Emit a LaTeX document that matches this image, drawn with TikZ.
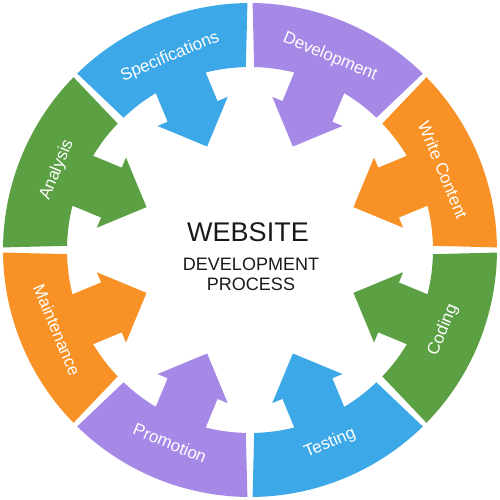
\documentclass[tikz,border=0pt]{standalone}
\usepackage{fontspec}
\setmainfont{Liberation Sans}
\usepackage{tikz}
\usepackage{xcolor}

\definecolor{ringblue}{HTML}{3DA8E8}
\definecolor{ringpurple}{HTML}{A688E6}
\definecolor{ringorange}{HTML}{F89226}
\definecolor{ringgreen}{HTML}{5BA043}

\begin{document}
\begin{tikzpicture}[x=0.75pt,y=0.75pt,
    ringlabel/.style={inner sep=0.75pt,text=white,font=\fontsize{12.75}{15}\selectfont},
    centertext/.style={anchor=base,inner sep=0.75pt,text=black!90}]
            \useasboundingbox (-250,-250) rectangle (250,250); %500 x 500, centre of the ring at (0,0)
            
            
            %Shape: Ring Arrow [Write Content] 
            \begin{scope}[rotate=22.5]
            \fill [ringorange] (-21.2:183) -- (-21.9:247) arc[start angle=-21.9,end angle=21.9,radius=247] -- (21.2:183) arc[start angle=21.2,end angle=8.5,radius=183] -- (150,27) -- (150,38) -- (112,0) -- (150,-38) -- (150,-27) -- (-8.5:183) arc[start angle=-8.5,end angle=-21.2,radius=183] -- cycle ;
            \end{scope}
            %Shape: Ring Arrow [Development] 
            \begin{scope}[rotate=67.5]
            \fill [ringpurple] (-21.2:183) -- (-21.9:247) arc[start angle=-21.9,end angle=21.9,radius=247] -- (21.2:183) arc[start angle=21.2,end angle=8.5,radius=183] -- (150,27) -- (150,38) -- (112,0) -- (150,-38) -- (150,-27) -- (-8.5:183) arc[start angle=-8.5,end angle=-21.2,radius=183] -- cycle ;
            \end{scope}
            %Shape: Ring Arrow [Specifications] 
            \begin{scope}[rotate=112.5]
            \fill [ringblue] (-21.2:183) -- (-21.9:247) arc[start angle=-21.9,end angle=21.9,radius=247] -- (21.2:183) arc[start angle=21.2,end angle=8.5,radius=183] -- (150,27) -- (150,38) -- (112,0) -- (150,-38) -- (150,-27) -- (-8.5:183) arc[start angle=-8.5,end angle=-21.2,radius=183] -- cycle ;
            \end{scope}
            %Shape: Ring Arrow [Analysis] 
            \begin{scope}[rotate=157.5]
            \fill [ringgreen] (-21.2:183) -- (-21.9:247) arc[start angle=-21.9,end angle=21.9,radius=247] -- (21.2:183) arc[start angle=21.2,end angle=8.5,radius=183] -- (150,27) -- (150,38) -- (112,0) -- (150,-38) -- (150,-27) -- (-8.5:183) arc[start angle=-8.5,end angle=-21.2,radius=183] -- cycle ;
            \end{scope}
            %Shape: Ring Arrow [Maintenance] 
            \begin{scope}[rotate=202.5]
            \fill [ringorange] (-21.2:183) -- (-21.9:247) arc[start angle=-21.9,end angle=21.9,radius=247] -- (21.2:183) arc[start angle=21.2,end angle=8.5,radius=183] -- (150,27) -- (150,38) -- (112,0) -- (150,-38) -- (150,-27) -- (-8.5:183) arc[start angle=-8.5,end angle=-21.2,radius=183] -- cycle ;
            \end{scope}
            %Shape: Ring Arrow [Promotion] 
            \begin{scope}[rotate=247.5]
            \fill [ringpurple] (-21.2:183) -- (-21.9:247) arc[start angle=-21.9,end angle=21.9,radius=247] -- (21.2:183) arc[start angle=21.2,end angle=8.5,radius=183] -- (150,27) -- (150,38) -- (112,0) -- (150,-38) -- (150,-27) -- (-8.5:183) arc[start angle=-8.5,end angle=-21.2,radius=183] -- cycle ;
            \end{scope}
            %Shape: Ring Arrow [Testing] 
            \begin{scope}[rotate=292.5]
            \fill [ringblue] (-21.2:183) -- (-21.9:247) arc[start angle=-21.9,end angle=21.9,radius=247] -- (21.2:183) arc[start angle=21.2,end angle=8.5,radius=183] -- (150,27) -- (150,38) -- (112,0) -- (150,-38) -- (150,-27) -- (-8.5:183) arc[start angle=-8.5,end angle=-21.2,radius=183] -- cycle ;
            \end{scope}
            %Shape: Ring Arrow [Coding] 
            \begin{scope}[rotate=337.5]
            \fill [ringgreen] (-21.2:183) -- (-21.9:247) arc[start angle=-21.9,end angle=21.9,radius=247] -- (21.2:183) arc[start angle=21.2,end angle=8.5,radius=183] -- (150,27) -- (150,38) -- (112,0) -- (150,-38) -- (150,-27) -- (-8.5:183) arc[start angle=-8.5,end angle=-21.2,radius=183] -- cycle ;
            \end{scope}
            
            % Text Node
            \draw (22.5:209) node (write) [ringlabel,rotate=-67.5] {Write Content};
            % Text Node
            \draw (67.5:209) node (devel) [ringlabel,rotate=-22.5] {Development};
            % Text Node
            \draw (112.5:209) node (spec) [ringlabel,rotate=22.5] {Specifications};
            % Text Node
            \draw (157.5:209) node (analysis) [ringlabel,rotate=67.5] {Analysis};
            % Text Node
            \draw (202.5:209) node (maint) [ringlabel,rotate=-67.5] {Maintenance};
            % Text Node
            \draw (247.5:209) node (promo) [ringlabel,rotate=-22.5] {Promotion};
            % Text Node
            \draw (292.5:209) node (test) [ringlabel,rotate=22.5] {Testing};
            % Text Node
            \draw (337.5:209) node (coding) [ringlabel,rotate=67.5] {Coding};
            
            % Text Node
            \draw (-2,8) node (website) [centertext] [font=\fontsize{20.25}{24}\selectfont] {WEBSITE};
            % Text Node
            \draw (1,-20) node (development) [centertext] [font=\fontsize{13.5}{16}\selectfont] {DEVELOPMENT};
            % Text Node
            \draw (1,-40) node (process) [centertext] [font=\fontsize{13.5}{16}\selectfont] {PROCESS};
            
            
            \end{tikzpicture}
\end{document}
